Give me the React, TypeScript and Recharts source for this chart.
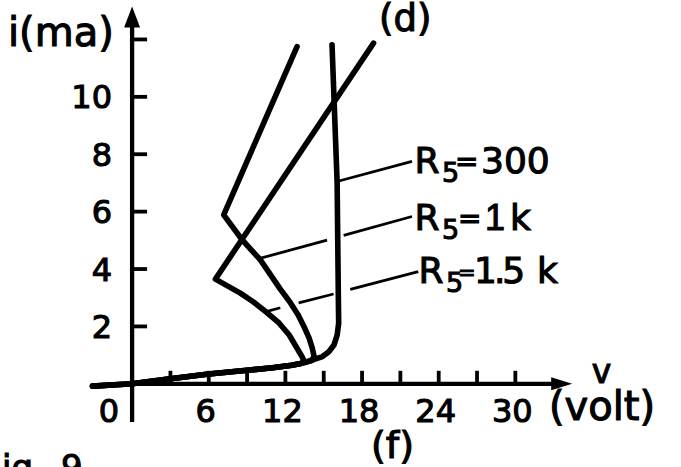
import React from 'react';
import { LineChart, Line, XAxis, YAxis, ReferenceLine, ReferenceDot } from 'recharts';

// ---------- data (v in volt, i in mA) ----------
const baseV = [-3.1, 0, 3, 6, 9, 11, 12.5, 13.2];
const baseI = [-0.08, 0, 0.18, 0.34, 0.47, 0.56, 0.65, 0.71];

const r300V = [...baseV, 14.2, 14.9, 15.4, 15.8, 16.05, 16.17, 16.15, 16.05, 15.65];
const r300I = [...baseI, 0.84, 0.95, 1.12, 1.35, 1.7, 2.11, 2.8, 7.0, 11.81];

const r1kV = [...baseV, 14.0, 14.25, 14.1, 13.85, 13.5, 13.0, 12.35, 11.6, 10.04, 8.61, 7.17, 12.91];
const r1kI = [...baseI, 0.8, 0.95, 1.25, 1.6, 1.95, 2.4, 2.85, 3.3, 4.32, 5.02, 5.89, 11.75];

const r15kV = [...baseV, 13.45, 13.3, 12.9, 12.3, 11.5, 10.5, 9.5, 8.47, 6.52, 18.9];
const r15kI = [...baseI, 0.8, 0.95, 1.25, 1.7, 2.12, 2.5, 2.85, 3.16, 3.65, 11.87];

// label pointer segments [v1, i1, v2, i2]
const ptr300 = [[21.91, 7.75, 16.04, 7.05]];
const ptr1k = [[21.91, 5.83, 16.56, 5.17], [15.26, 5.01, 10.0, 4.37]];
const ptr15k = [[22.4, 3.91, 17.08, 3.29], [15.77, 3.13, 13.04, 2.82], [11.6, 2.65, 10.43, 2.51]];

const X_TICKS = [0, 3, 6, 9, 12, 15, 18, 21, 24, 27, 30];
const X_LABELS = [0, 6, 12, 18, 24, 30];
const Y_TICKS = [2, 4, 6, 8, 10, 12];
const Y_LABELS = [2, 4, 6, 8, 10];

const toRows = (vs: number[], is: number[]) => vs.map((v, k) => ({ v, i: is[k] }));
const d300 = toRows(r300V, r300I);
const d1k = toRows(r1kV, r1kI);
const d15k = toRows(r15kV, r15kI);

// ---------- layout ----------
const W = 681;
const H = 467;
const MARGIN = { top: 5, right: 89, bottom: 0, left: 1 };
const Y_AXIS_W = 80;
const X_AXIS_H = 43;
const X_DOMAIN: [number, number] = [-4, 36];
const Y_DOMAIN: [number, number] = [-1.4, 13.2];

const plotLeft = MARGIN.left + Y_AXIS_W;
const plotWidth = W - plotLeft - MARGIN.right;
const plotTop = MARGIN.top;
const plotHeight = H - MARGIN.top - MARGIN.bottom - X_AXIS_H;
const ORIGIN_X = plotLeft + ((0 - X_DOMAIN[0]) / (X_DOMAIN[1] - X_DOMAIN[0])) * plotWidth;
const ORIGIN_Y = plotTop + ((Y_DOMAIN[1] - 0) / (Y_DOMAIN[1] - Y_DOMAIN[0])) * plotHeight;

const FONT = '"DejaVu Sans", sans-serif';
const FONT_NARROW = '"Liberation Sans", sans-serif';
const INK = '#000';
const TEXT_STROKE = 1.1;

const YTick = (props: any) => {
  const { y, payload } = props;
  const val = payload.value;
  return (
    <g>
      <line x1={ORIGIN_X} x2={ORIGIN_X + 15} y1={y} y2={y} stroke={INK} strokeWidth={3.8} />
      {Y_LABELS.includes(val) && (
        <text x={112} y={y + 11.5} textAnchor="end" fontFamily={FONT} fontSize={32} fill={INK} stroke={INK} strokeWidth={TEXT_STROKE}>
          {val}
        </text>
      )}
    </g>
  );
};

const XTick = (props: any) => {
  const { x, payload } = props;
  const val = payload.value;
  return (
    <g>
      {val !== 0 && (
        <line x1={x} x2={x} y1={ORIGIN_Y} y2={ORIGIN_Y - 13} stroke={INK} strokeWidth={3.8} />
      )}
      {X_LABELS.includes(val) && (
        <text
          x={val === 0 ? 119 : x - 3}
          y={421.5}
          textAnchor={val === 0 ? 'end' : 'middle'}
          fontFamily={FONT}
          fontSize={32}
          fill={INK}
          stroke={INK}
          strokeWidth={TEXT_STROKE}
        >
          {val}
        </text>
      )}
    </g>
  );
};

const UpArrow = (props: any) => {
  const { cx, cy } = props;
  return <polygon points={`${cx},${cy} ${cx - 8},${cy + 21} ${cx + 8},${cy + 21}`} fill={INK} />;
};
const RightArrow = (props: any) => {
  const { cx, cy } = props;
  return <polygon points={`${cx},${cy} ${cx - 21},${cy - 6.5} ${cx - 21},${cy + 6.5}`} fill={INK} />;
};

const segs = (list: number[][], key: string) =>
  list.map((s, k) => (
    <ReferenceLine
      key={key + k}
      segment={[{ x: s[0], y: s[1] }, { x: s[2], y: s[3] }]}
      stroke={INK}
      strokeWidth={2.8}
      ifOverflow="visible"
    />
  ));

const T = ({ x, y, size = 36, anchor = 'start', family = FONT, children }: any) => (
  <text
    x={x}
    y={y}
    fontFamily={family}
    fontSize={size}
    fill={INK}
    stroke={INK}
    strokeWidth={TEXT_STROKE}
    textAnchor={anchor}
  >
    {children}
  </text>
);

const textStyle = { fontFamily: FONT, fontSize: 36, fill: INK, stroke: INK, strokeWidth: TEXT_STROKE };

const lineProps = {
  dataKey: 'i',
  type: 'linear' as const,
  stroke: INK,
  strokeWidth: 5.6,
  dot: false,
  activeDot: false,
  isAnimationActive: false,
  strokeLinejoin: 'round' as const,
  strokeLinecap: 'round' as const,
};

export default function App() {
  return (
    <div style={{ position: 'absolute', left: 0, top: 0, width: W, height: H, background: '#fff' }}>
      <LineChart width={W} height={H} margin={MARGIN}>
        <XAxis
          dataKey="v"
          type="number"
          domain={X_DOMAIN}
          allowDataOverflow
          ticks={X_TICKS}
          interval={0}
          axisLine={false}
          tickLine={false}
          tick={XTick}
          height={X_AXIS_H}
        />
        <YAxis
          type="number"
          domain={Y_DOMAIN}
          allowDataOverflow
          ticks={Y_TICKS}
          interval={0}
          axisLine={false}
          tickLine={false}
          tick={YTick}
          width={Y_AXIS_W}
        />
        <ReferenceLine segment={[{ x: 0, y: -1.33 }, { x: 0, y: 12.6 }]} stroke={INK} strokeWidth={4.3} ifOverflow="visible" />
        <ReferenceLine segment={[{ x: 0, y: 0 }, { x: 33.4, y: 0 }]} stroke={INK} strokeWidth={4.3} ifOverflow="visible" />
        <ReferenceDot x={0} y={13.15} r={1} shape={UpArrow} ifOverflow="visible" />
        <ReferenceDot x={34.45} y={0} r={1} shape={RightArrow} ifOverflow="visible" />
        {segs(ptr300, 'a')}
        {segs(ptr1k, 'b')}
        {segs(ptr15k, 'c')}
        <Line data={d300} {...lineProps} />
        <Line data={d1k} {...lineProps} />
        <Line data={d15k} {...lineProps} />
      </LineChart>
      <svg width={W} height={H} style={{ position: 'absolute', left: 0, top: 0, pointerEvents: 'none' }}>
        <T x={8} y={46} size={40}>i(ma)</T>
        <T x={379} y={31} size={37}>(d)</T>
        <T x={371} y={458} size={38}>(f)</T>
        <T x={601.5} y={383} size={33} anchor="middle">v</T>
        <T x={549} y={420} size={40}>(volt)</T>

        <text {...textStyle}>
          <tspan x={414.5} y={173}>R</tspan>
          <tspan x={442} y={182} fontSize={27}>5</tspan>
          <tspan x={455} y={170.5} fontSize={28}>=</tspan>
          <tspan x={481} y={173}>300</tspan>
        </text>

        <text {...textStyle}>
          <tspan x={414.5} y={230}>R</tspan>
          <tspan x={442} y={239} fontSize={27}>5</tspan>
          <tspan x={458} y={227.5} fontSize={28}>=</tspan>
          <tspan x={485} y={230} fontFamily={FONT_NARROW}>1</tspan>
          <tspan x={510} y={230}>k</tspan>
        </text>

        <text {...textStyle}>
          <tspan x={418.5} y={283}>R</tspan>
          <tspan x={446} y={292} fontSize={27}>5</tspan>
          <tspan x={458} y={280} fontSize={21}>=</tspan>
          <tspan x={474} y={283} letterSpacing={-3}>1.5</tspan>
          <tspan x={537} y={283}>k</tspan>
        </text>

        <T x={2} y={479} size={34}>ig.</T>
        <T x={61} y={479} size={34}>9</T>
      </svg>
    </div>
  );
}
